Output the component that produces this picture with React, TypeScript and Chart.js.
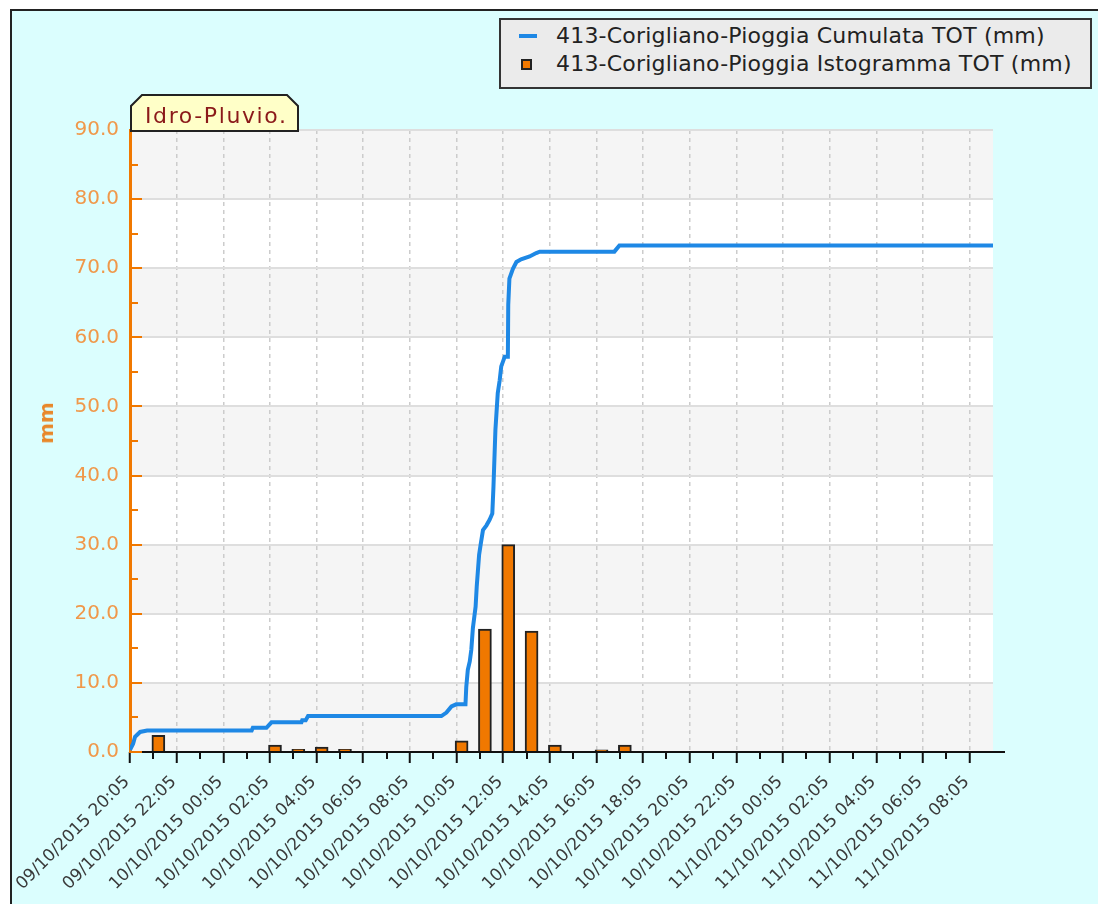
import React, { useEffect, useRef } from "react";
import { Chart, registerables } from "chart.js";

Chart.register(...registerables);

const FONT = '"DejaVu Sans", Verdana, sans-serif';
const START_UTC = Date.UTC(2015, 9, 9, 20, 5); // 09/10/2015 20:05
const X_MAX_MINUTES = 2220; // 37 hours shown
const LABEL_STEP_MINUTES = 120;
const MINOR_STEP_MINUTES = 60;

const seriesLabels = [
  "413-Corigliano-Pioggia Cumulata TOT (mm)",
  "413-Corigliano-Pioggia Istogramma TOT (mm)",
];
const tagText = "Idro-Pluvio.";
const yAxisTitle = "mm";
const yTicks = [0, 10, 20, 30, 40, 50, 60, 70, 80, 90];

// cumulative rain: minutes after 09/10/2015 20:05 and mm
const cumMinutes = [
  0, 8, 13, 26, 44, 313, 316, 351, 364, 441, 443, 452, 458, 801, 814, 827, 839,
  863, 865, 869, 874, 878, 882, 889, 892, 898, 902, 908, 917, 925, 932, 935, 940,
  946, 951, 955, 964, 972, 973, 976, 985, 994, 1006, 1028, 1045, 1054, 1246, 1259,
  2220,
];
const cumValues = [
  0.3, 1.2, 2.2, 2.9, 3.1, 3.1, 3.5, 3.5, 4.3, 4.3, 4.6, 4.6, 5.2, 5.2, 5.7, 6.6,
  6.9, 6.9, 9.4, 11.9, 13.1, 14.8, 17.9, 21.0, 24.0, 28.5, 30.0, 32.1, 32.8, 33.6,
  34.5, 38.4, 46.6, 51.9, 53.8, 55.8, 57.2, 57.2, 64.7, 68.5, 69.9, 70.9, 71.3,
  71.7, 72.2, 72.4, 72.4, 73.3, 73.3,
];

// hourly histogram: minutes after start and mm
const barMinutes = [73, 373, 433, 493, 553, 853, 913, 973, 1033, 1093, 1213, 1273];
const barValues = [2.4, 1.0, 0.4, 0.7, 0.4, 1.6, 17.8, 30.0, 17.5, 1.0, 0.3, 1.0];

const pad2 = (n: number) => (n < 10 ? "0" + n : "" + n);
const formatLabel = (minutes: number) => {
  const d = new Date(START_UTC + minutes * 60000);
  return (
    pad2(d.getUTCDate()) +
    "/" +
    pad2(d.getUTCMonth() + 1) +
    "/" +
    d.getUTCFullYear() +
    " " +
    pad2(d.getUTCHours()) +
    ":" +
    pad2(d.getUTCMinutes())
  );
};

const BLUE = "#1e88e5";
const ORANGE = "#f07800";

const decorPlugin = {
  id: "decor",
  beforeDraw(chart: any) {
    const { ctx, chartArea, scales } = chart;
    const y = scales.y;
    ctx.save();
    for (let i = 0; i < yTicks.length - 1; i++) {
      const y0 = y.getPixelForValue(yTicks[i]);
      const y1 = y.getPixelForValue(yTicks[i + 1]);
      ctx.fillStyle = i % 2 === 0 ? "#f5f5f5" : "#ffffff";
      ctx.fillRect(chartArea.left, y1, chartArea.right - chartArea.left, y0 - y1);
    }
    ctx.restore();
  },
  afterDraw(chart: any) {
    const { ctx, chartArea, scales } = chart;
    const x = scales.x;
    const y = scales.y;
    ctx.save();
    // x axis line (extends slightly past the plot)
    ctx.strokeStyle = "#111";
    ctx.lineWidth = 2;
    ctx.beginPath();
    ctx.moveTo(chartArea.left, chartArea.bottom);
    ctx.lineTo(chartArea.right + 12, chartArea.bottom);
    ctx.stroke();
    // minor x ticks
    ctx.beginPath();
    for (let m = MINOR_STEP_MINUTES; m < X_MAX_MINUTES; m += LABEL_STEP_MINUTES) {
      const px = Math.round(x.getPixelForValue(m));
      ctx.moveTo(px, chartArea.bottom);
      ctx.lineTo(px, chartArea.bottom + 7);
    }
    ctx.stroke();
    // inward y ticks
    ctx.strokeStyle = ORANGE;
    ctx.lineWidth = 2;
    ctx.beginPath();
    for (let i = 0; i < yTicks.length; i++) {
      const py = Math.round(y.getPixelForValue(yTicks[i]));
      ctx.moveTo(chartArea.left, py);
      ctx.lineTo(chartArea.left + 12, py);
      if (i < yTicks.length - 1) {
        const pm = Math.round(y.getPixelForValue((yTicks[i] + yTicks[i + 1]) / 2));
        ctx.moveTo(chartArea.left, pm);
        ctx.lineTo(chartArea.left + 8, pm);
      }
    }
    ctx.stroke();
    ctx.restore();
  },
};

export default function App() {
  const canvasRef = useRef<HTMLCanvasElement | null>(null);

  useEffect(() => {
    const canvas = canvasRef.current;
    if (!canvas) return;
    const chart = new Chart(canvas, {
      type: "bar",
      data: {
        datasets: [
          {
            type: "line",
            label: seriesLabels[0],
            data: cumMinutes.map((m, i) => ({ x: m, y: cumValues[i] })),
            borderColor: BLUE,
            backgroundColor: BLUE,
            borderWidth: 4,
            pointRadius: 0,
            tension: 0,
            order: 0,
          } as any,
          {
            type: "bar",
            label: seriesLabels[1],
            data: barMinutes.map((m, i) => ({ x: m, y: barValues[i] })),
            backgroundColor: ORANGE,
            borderColor: "#222",
            borderWidth: 2,
            barThickness: 13,
            order: 1,
          } as any,
        ],
      },
      options: {
        responsive: false,
        animation: false,
        events: [],
        layout: { padding: { top: 130, right: 105, left: 0, bottom: 0 } },
        plugins: {
          legend: { display: false },
          tooltip: { enabled: false },
          title: { display: false },
        },
        scales: {
          x: {
            type: "linear",
            min: 0,
            max: X_MAX_MINUTES,
            offset: false,
            grid: {
              offset: false,
              color: "#cccccc",
              lineWidth: 1.5,
              drawTicks: true,
              tickLength: 11,
              tickColor: "#111",
              tickWidth: 2,
              tickBorderDash: [],
            },
            border: { display: false, dash: [4, 4] },
            ticks: {
              stepSize: LABEL_STEP_MINUTES,
              includeBounds: false,
              autoSkip: false,
              maxRotation: 45,
              minRotation: 45,
              padding: 9,
              labelOffset: -3,
              color: "#3a3a3a",
              font: { family: FONT, size: 17 },
              callback: (v: any) => formatLabel(Number(v)),
            },
            afterFit: (s: any) => {
              s.height = 152;
            },
          },
          y: {
            type: "linear",
            min: 0,
            max: 90,
            grid: { color: "#dedede", lineWidth: 2, drawTicks: false },
            border: { display: true, color: ORANGE, width: 3 },
            ticks: {
              stepSize: 10,
              padding: 11,
              color: "#f0984a",
              font: { family: FONT, size: 20 },
              callback: (v: any) => Number(v).toFixed(1),
            },
            afterFit: (s: any) => {
              s.width = 130;
            },
          },
        },
      } as any,
      plugins: [decorPlugin],
    });
    return () => chart.destroy();
  }, []);

  return (
    <div
      style={{
        position: "absolute",
        left: 0,
        top: 0,
        width: 1098,
        height: 904,
        overflow: "hidden",
        background: "#ffffff",
        fontFamily: FONT,
      }}
    >
      <div
        style={{
          position: "absolute",
          left: 10,
          top: 9,
          width: 1120,
          height: 920,
          border: "2px solid #222",
          background: "#dbfefe",
        }}
      />
      <canvas
        ref={canvasRef}
        width={1098}
        height={904}
        style={{ position: "absolute", left: 0, top: 0, width: 1098, height: 904 }}
      />
      <div
        style={{
          position: "absolute",
          left: 46,
          top: 423,
          transform: "translate(-50%, -50%) rotate(-90deg)",
          font: `bold 20px ${FONT}`,
          color: "#e8872a",
          whiteSpace: "nowrap",
          lineHeight: "1",
        }}
      >
        {yAxisTitle}
      </div>
      <svg
        width={172}
        height={40}
        style={{ position: "absolute", left: 129, top: 93, overflow: "visible" }}
      >
        <polygon
          points="2,38 2,13 13,2 158,2 169,13 169,38"
          fill="#ffffc8"
          stroke="#222"
          strokeWidth={2}
        />
        <text
          x={16}
          y={30}
          fill="#8b1a1a"
          style={{ font: `22px ${FONT}`, letterSpacing: "1.6px" }}
        >
          {tagText}
        </text>
      </svg>
      <div
        style={{
          position: "absolute",
          left: 499,
          top: 18,
          width: 593,
          height: 71,
          boxSizing: "border-box",
          border: "2px solid #333",
          background: "#ebebeb",
          font: `22px ${FONT}`,
          color: "#222",
          letterSpacing: "0.2px",
        }}
      >
        <div
          style={{
            position: "absolute",
            left: 18,
            top: 14,
            width: 18,
            height: 4,
            background: BLUE,
          }}
        />
        <div style={{ position: "absolute", left: 55, top: 2, lineHeight: "28px", whiteSpace: "nowrap" }}>
          {seriesLabels[0]}
        </div>
        <div
          style={{
            position: "absolute",
            left: 20,
            top: 39,
            width: 11,
            height: 11,
            boxSizing: "border-box",
            border: "2px solid #222",
            background: ORANGE,
          }}
        />
        <div style={{ position: "absolute", left: 55, top: 30, lineHeight: "28px", whiteSpace: "nowrap" }}>
          {seriesLabels[1]}
        </div>
      </div>
    </div>
  );
}
